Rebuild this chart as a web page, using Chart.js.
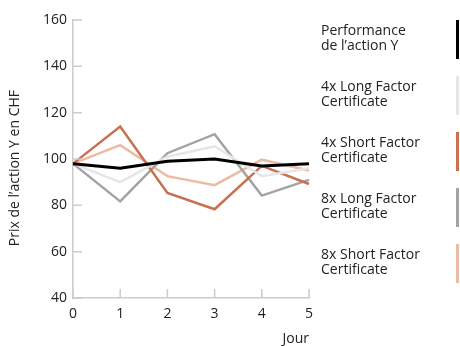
<!DOCTYPE html>
<html>
<head>
<meta charset="utf-8">
<script src="https://cdn.jsdelivr.net/npm/chart.js@4/dist/chart.umd.min.js"></script>
<style>
  html, body { margin: 0; padding: 0; background: #fff; }
  #wrap { position: relative; width: 460px; height: 346px; }
  #c { position: absolute; left: 0; top: 0; }
  #legend { position: absolute; left: 321px; top: 20px; width: 139px; font-family: "Open Sans", sans-serif; font-size: 14px; color: #222; }
  .item { position: relative; height: 56px; }
  .item .txt { position: absolute; left: 0; top: 2px; line-height: 15px; white-space: pre; }
  .item .mk { position: absolute; left: 135px; top: 0; width: 3px; height: 39px; }
</style>
</head>
<body>
<div id="wrap">
  <canvas id="c" width="460" height="346"></canvas>
  <div id="legend"></div>
</div>
<script>
const days = ['0', '1', '2', '3', '4', '5'];
const seriesNames = ['Performance\nde l\u2019action Y', '4x Long Factor\nCertificate', '4x Short Factor\nCertificate', '8x Long Factor\nCertificate', '8x Short Factor\nCertificate'];
const performance = [98, 96, 99, 100, 97, 98];
const long4x = [98, 90, 101, 105.5, 92.6, 96];
const short4x = [98, 114, 85.3, 78.3, 97, 89.2];
const long8x = [98, 81.7, 102.5, 110.7, 84.2, 91];
const short8x = [98, 106, 92.6, 88.7, 99.7, 95];
const yTicks = [40, 60, 80, 100, 120, 140, 160];

const colors = ['#000000', '#e6e6e6', '#c8704f', '#a3a3a3', '#ebbba6'];
const widths = [3, 2.5, 2.5, 2.5, 2.5];
const values = [performance, long4x, short4x, long8x, short8x];

const datasets = values.map((v, i) => ({
  label: seriesNames[i],
  data: v,
  borderColor: colors[i],
  backgroundColor: colors[i],
  borderWidth: widths[i],
  pointRadius: 0,
  tension: 0,
  fill: false,
  order: i === 0 ? 0 : i + 1
}));

const inwardTicks = {
  id: 'inwardTicks',
  afterDraw(chart) {
    const ctx = chart.ctx;
    const xs = chart.scales.x, ys = chart.scales.y;
    const a = chart.chartArea;
    ctx.save();
    ctx.strokeStyle = '#cccccc';
    ctx.lineWidth = 1.5;
    ctx.beginPath();
    yTicks.forEach(t => {
      const y = ys.getPixelForValue(t);
      ctx.moveTo(a.left, y); ctx.lineTo(a.left + 9, y);
    });
    days.forEach((d, i) => {
      const x = xs.getPixelForValue(i);
      ctx.moveTo(x, a.bottom); ctx.lineTo(x, a.bottom - 9);
    });
    ctx.stroke();
    ctx.restore();
  }
};

const font = { family: '"Open Sans", sans-serif', size: 14 };
const titleFont = { family: '"Open Sans", sans-serif', size: 14, lineHeight: 1 };

const chart = new Chart(document.getElementById('c'), {
  type: 'line',
  data: { labels: days, datasets },
  options: {
    responsive: false,
    animation: false,
    layout: { padding: { left: 2, right: 151, top: 20, bottom: 0 } },
    plugins: { legend: { display: false }, tooltip: { enabled: false } },
    scales: {
      x: {
        type: 'category',
        offset: false,
        grid: { display: true, drawOnChartArea: false, drawTicks: false },
        border: { display: true, color: '#cccccc', width: 1.5 },
        ticks: { color: '#222', font, padding: 8, maxRotation: 0 },
        title: { display: true, text: 'Jour', align: 'end', color: '#222', font: titleFont, padding: { top: 2, bottom: 0 } },
        afterFit(s) { s.height = 48; }
      },
      y: {
        min: 40, max: 160,
        afterBuildTicks(s) { s.ticks = yTicks.map(v => ({ value: v })); },
        grid: { display: true, drawOnChartArea: false, drawTicks: false },
        border: { display: true, color: '#cccccc', width: 1.5 },
        ticks: { color: '#222', font, padding: 6 },
        title: { display: true, text: 'Prix de l\u2019action Y en CHF\u00a0\u00a0\u00a0\u00a0\u00a0', color: '#222', font: titleFont, padding: { top: 6, bottom: 6 } },
        afterFit(s) { s.width = 71; }
      }
    }
  },
  plugins: [inwardTicks]
});

const leg = document.getElementById('legend');
datasets.forEach((d, i) => {
  const it = document.createElement('div');
  it.className = 'item';
  const t = document.createElement('div');
  t.className = 'txt'; t.textContent = d.label;
  const m = document.createElement('div');
  m.className = 'mk'; m.style.background = d.borderColor;
  it.appendChild(t); it.appendChild(m);
  leg.appendChild(it);
});
</script>
</body>
</html>
